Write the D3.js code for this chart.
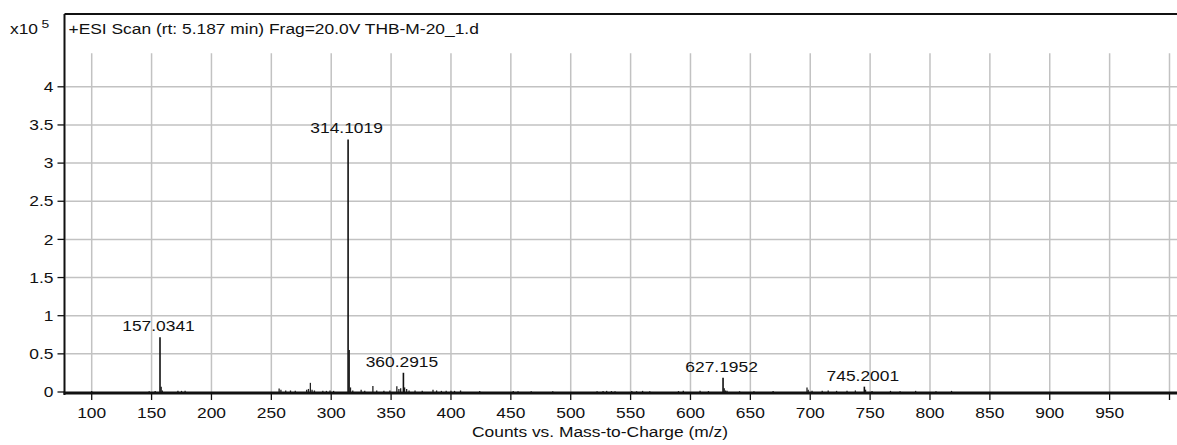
<!DOCTYPE html>
<html>
<head>
<meta charset="utf-8">
<script src="https://cdn.jsdelivr.net/npm/d3@7"></script>
<style>
  html, body { margin: 0; padding: 0; background: #fff; }
  svg text { font-family: "Liberation Sans", Arial, sans-serif; fill: #111; }
</style>
</head>
<body>
<svg id="chart" width="1177" height="445"></svg>
<script>
// Mass spectrum: +ESI scan, THB-M-20_1.d
const titleText = "+ESI Scan (rt: 5.187 min) Frag=20.0V THB-M-20_1.d";
const xAxisTitle = "Counts vs. Mass-to-Charge (m/z)";

// Annotated peaks (m/z, counts)
const peakMz     = [157.0341, 314.1019, 360.2915, 627.1952, 745.2001];
const peakCounts = [71900,    331000,   25200,    18600,    7000];

// Remaining centroid sticks (m/z, counts)
const stickMz = [
  100.0, 148.0, 153.0, 158.04, 159.0, 172.0, 175.0, 178.0,
  256.5, 258.0, 262.0, 266.0, 270.0, 279.5, 281.0, 282.6, 284.0, 286.0, 293.0, 296.0, 299.0, 302.0,
  315.1, 316.1, 318.0, 325.0, 328.0, 334.8, 338.0, 344.0, 349.0, 354.8, 356.5, 358.0, 361.3, 363.0, 365.0,
  370.0, 376.0, 385.0, 388.0, 392.0, 396.0, 400.0, 403.0, 408.0, 424.0, 452.0, 456.0, 467.0,
  485.0, 522.0, 527.0, 530.0, 534.0, 537.0, 551.0, 555.0, 560.0, 566.0, 590.0, 594.0, 608.0, 615.0,
  628.2, 629.2, 630.5, 641.0, 653.0, 669.0, 697.3, 698.3, 701.5, 710.0, 715.0, 722.0, 730.7, 737.7,
  746.2, 751.6, 767.0, 775.0, 788.0, 805.0, 818.0
];
const stickCounts = [
  1200, 1000, 1200, 7000, 2000, 1500, 1500, 1500,
  4500, 3000, 2000, 2000, 1500, 3000, 4000, 12000, 3000, 2000, 1500, 1500, 2000, 1500,
  55000, 6000, 2000, 3000, 1500, 8000, 2000, 1500, 2000, 7500, 4000, 5000, 6000, 4000, 2000,
  2000, 1500, 3000, 2000, 1500, 1500, 1500, 1500, 2000, 1200, 1200, 1000, 1000,
  1000, 1000, 1200, 1500, 1200, 1000, 1200, 1000, 1500, 1000, 1200, 1500, 1500, 1200,
  5000, 2000, 1500, 1000, 1000, 1200, 6000, 3000, 1500, 1500, 2000, 1500, 1500, 2000,
  3000, 1200, 1500, 1000, 1500, 1000, 1500
];

// Tick values
const xTicks = [100, 150, 200, 250, 300, 350, 400, 450, 500, 550, 600, 650, 700, 750, 800, 850, 900, 950, 1000];
const xTickLabels = ["100","150","200","250","300","350","400","450","500","550","600","650","700","750","800","850","900","950",""];
const yTicks = [0, 50000, 100000, 150000, 200000, 250000, 300000, 350000, 400000];
const yTickLabels = ["0","0.5","1","1.5","2","2.5","3","3.5","4"];

const W = 1177, H = 445;
const frameLeft = 64.5, frameTop = 14, baseY = 392;
const SX = 1.2;            // horizontal stretch of the instrument font
const FS = 14.5;

const svg = d3.select("#chart");

const x = d3.scaleLinear().domain([100, 1000]).range([91.7, 1169.5]);
const y = d3.scaleLinear().domain([0, 400000]).range([baseY, 86.8]);
const gridTop = y(444000);

function wide(sel, px, py) {
  return sel.attr("transform", `translate(${px},${py}) scale(${SX},1)`);
}

// Grid
const grid = svg.append("g").attr("stroke", "#c2c2c2").attr("stroke-width", 1.5);
grid.selectAll("line.v").data(xTicks).join("line")
  .attr("x1", d => x(d)).attr("x2", d => x(d))
  .attr("y1", gridTop).attr("y2", baseY);
grid.selectAll("line.h").data(yTicks.slice(1)).join("line")
  .attr("x1", frameLeft + 1).attr("x2", W)
  .attr("y1", d => y(d)).attr("y2", d => y(d));

// Frame: top and left edges
svg.append("line").attr("x1", frameLeft).attr("x2", W).attr("y1", frameTop).attr("y2", frameTop)
  .attr("stroke", "#111").attr("stroke-width", 2);
svg.append("line").attr("x1", frameLeft).attr("x2", frameLeft).attr("y1", frameTop).attr("y2", baseY + 3)
  .attr("stroke", "#111").attr("stroke-width", 2);

// Spectrum sticks
const sticks = stickMz.map((m, i) => ({ m, c: stickCounts[i] }));
svg.append("g").attr("stroke", "#222").attr("stroke-width", 1.3)
  .selectAll("line").data(sticks).join("line")
  .attr("x1", d => x(d.m)).attr("x2", d => x(d.m))
  .attr("y1", baseY).attr("y2", d => y(d.c));

const peaks = peakMz.map((m, i) => ({ m, c: peakCounts[i] }));
svg.append("g").attr("stroke", "#111").attr("stroke-width", 1.6)
  .selectAll("line").data(peaks).join("line")
  .attr("x1", d => x(d.m)).attr("x2", d => x(d.m))
  .attr("y1", baseY).attr("y2", d => y(d.c));

// Peak labels
svg.append("g").selectAll("text").data(peaks).join("text")
  .attr("font-size", FS).attr("text-anchor", "middle")
  .each(function (d) { wide(d3.select(this), x(d.m) - 1.5, y(d.c) - 6); })
  .text(d => d.m.toFixed(4));

// X axis baseline (thick)
svg.append("line").attr("x1", frameLeft - 1).attr("x2", W).attr("y1", baseY + 1).attr("y2", baseY + 1)
  .attr("stroke", "#111").attr("stroke-width", 3);

// X ticks and labels
const xt = svg.append("g");
xt.selectAll("line").data(xTicks).join("line")
  .attr("x1", d => x(d)).attr("x2", d => x(d))
  .attr("y1", baseY + 2).attr("y2", baseY + 8)
  .attr("stroke", "#111").attr("stroke-width", 1.3);
xt.selectAll("text").data(xTicks).join("text")
  .attr("font-size", FS).attr("text-anchor", "middle")
  .each(function (d) { wide(d3.select(this), x(d), 418); })
  .text((d, i) => xTickLabels[i]);

// Y ticks and labels
const yt = svg.append("g");
yt.selectAll("line").data(yTicks).join("line")
  .attr("x1", frameLeft - 7).attr("x2", frameLeft)
  .attr("y1", d => y(d)).attr("y2", d => y(d))
  .attr("stroke", "#111").attr("stroke-width", 1.3);
yt.selectAll("text").data(yTicks).join("text")
  .attr("font-size", FS).attr("text-anchor", "end")
  .each(function (d) { wide(d3.select(this), frameLeft - 11, y(d) + 5.2); })
  .text((d, i) => yTickLabels[i]);

// Exponent label
wide(svg.append("text").attr("font-size", FS).attr("text-anchor", "start"), 10, 33.5).text("x10");
wide(svg.append("text").attr("font-size", 11.5).attr("text-anchor", "start"), 41.5, 28).text("5");

// Scan title
wide(svg.append("text").attr("font-size", FS).attr("text-anchor", "start"), 68.5, 33.5).text(titleText);

// Axis title
wide(svg.append("text").attr("font-size", FS).attr("text-anchor", "middle"), 600, 436.5).text(xAxisTitle);
</script>
</body>
</html>
